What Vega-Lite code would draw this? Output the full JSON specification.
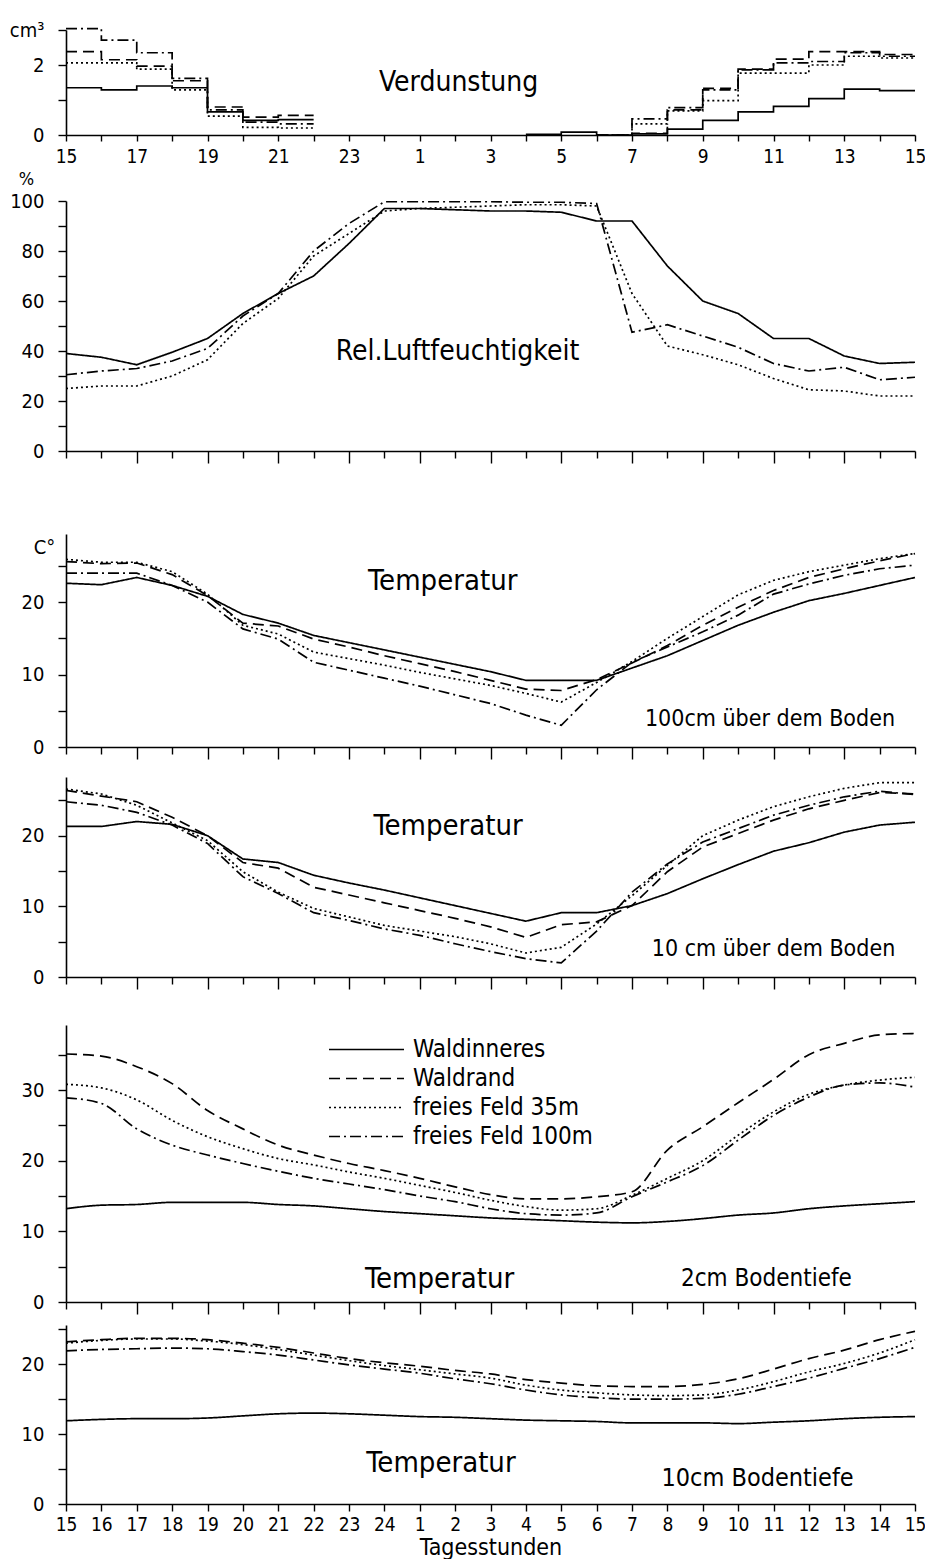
{
"$schema":"https://vega.github.io/schema/vega-lite/v6.json",
"padding":{"left":9,"top":20,"right":5,"bottom":0},
"config":{"view":{"stroke":null},"font":"DejaVu Sans Condensed, DejaVu Sans",
"axis":{"domainColor":"black","domainWidth":1.6,"tickColor":"black","tickWidth":1.4,"labelColor":"black","labelFontSize":20,"titleColor":"black","grid":false,"labelFlush":false,"labelOverlap":false,"titleFontWeight":"normal"},
"line":{"color":"black","strokeWidth":1.7},
"text":{"color":"black"}},
"datasets":{
"evap":[
{"t":0,"s":"Waldinneres","v":1.35,"g":"a"},{"t":1,"s":"Waldinneres","v":1.29,"g":"a"},{"t":2,"s":"Waldinneres","v":1.40,"g":"a"},{"t":3,"s":"Waldinneres","v":1.35,"g":"a"},{"t":4,"s":"Waldinneres","v":0.66,"g":"a"},{"t":5,"s":"Waldinneres","v":0.42,"g":"a"},{"t":6,"s":"Waldinneres","v":0.44,"g":"a"},{"t":7,"s":"Waldinneres","v":0.44,"g":"a"},
{"t":0,"s":"Waldrand","v":2.38,"g":"a"},{"t":1,"s":"Waldrand","v":2.15,"g":"a"},{"t":2,"s":"Waldrand","v":1.97,"g":"a"},{"t":3,"s":"Waldrand","v":1.55,"g":"a"},{"t":4,"s":"Waldrand","v":0.80,"g":"a"},{"t":5,"s":"Waldrand","v":0.51,"g":"a"},{"t":6,"s":"Waldrand","v":0.56,"g":"a"},{"t":7,"s":"Waldrand","v":0.56,"g":"a"},
{"t":0,"s":"freies Feld 35m","v":2.06,"g":"a"},{"t":1,"s":"freies Feld 35m","v":2.06,"g":"a"},{"t":2,"s":"freies Feld 35m","v":1.88,"g":"a"},{"t":3,"s":"freies Feld 35m","v":1.29,"g":"a"},{"t":4,"s":"freies Feld 35m","v":0.54,"g":"a"},{"t":5,"s":"freies Feld 35m","v":0.22,"g":"a"},{"t":6,"s":"freies Feld 35m","v":0.20,"g":"a"},{"t":7,"s":"freies Feld 35m","v":0.20,"g":"a"},
{"t":0,"s":"freies Feld 100m","v":3.04,"g":"a"},{"t":1,"s":"freies Feld 100m","v":2.71,"g":"a"},{"t":2,"s":"freies Feld 100m","v":2.35,"g":"a"},{"t":3,"s":"freies Feld 100m","v":1.62,"g":"a"},{"t":4,"s":"freies Feld 100m","v":0.72,"g":"a"},{"t":5,"s":"freies Feld 100m","v":0.37,"g":"a"},{"t":6,"s":"freies Feld 100m","v":0.32,"g":"a"},{"t":7,"s":"freies Feld 100m","v":0.32,"g":"a"},
{"t":13,"s":"Waldinneres","v":0.02,"g":"b"},{"t":14,"s":"Waldinneres","v":0.08,"g":"b"},{"t":15,"s":"Waldinneres","v":0,"g":"b"},{"t":16,"s":"Waldinneres","v":0.03,"g":"b"},{"t":17,"s":"Waldinneres","v":0.17,"g":"b"},{"t":18,"s":"Waldinneres","v":0.42,"g":"b"},{"t":19,"s":"Waldinneres","v":0.66,"g":"b"},{"t":20,"s":"Waldinneres","v":0.82,"g":"b"},{"t":21,"s":"Waldinneres","v":1.04,"g":"b"},{"t":22,"s":"Waldinneres","v":1.31,"g":"b"},{"t":23,"s":"Waldinneres","v":1.27,"g":"b"},{"t":24,"s":"Waldinneres","v":1.27,"g":"b"},
{"t":15,"s":"Waldrand","v":0,"g":"b"},{"t":16,"s":"Waldrand","v":0.05,"g":"b"},{"t":17,"s":"Waldrand","v":0.72,"g":"b"},{"t":18,"s":"Waldrand","v":1.33,"g":"b"},{"t":19,"s":"Waldrand","v":1.88,"g":"b"},{"t":20,"s":"Waldrand","v":2.17,"g":"b"},{"t":21,"s":"Waldrand","v":2.38,"g":"b"},{"t":22,"s":"Waldrand","v":2.38,"g":"b"},{"t":23,"s":"Waldrand","v":2.30,"g":"b"},{"t":24,"s":"Waldrand","v":2.30,"g":"b"},
{"t":15,"s":"freies Feld 35m","v":0,"g":"b"},{"t":16,"s":"freies Feld 35m","v":0.32,"g":"b"},{"t":17,"s":"freies Feld 35m","v":0.69,"g":"b"},{"t":18,"s":"freies Feld 35m","v":0.98,"g":"b"},{"t":19,"s":"freies Feld 35m","v":1.77,"g":"b"},{"t":20,"s":"freies Feld 35m","v":1.77,"g":"b"},{"t":21,"s":"freies Feld 35m","v":2.00,"g":"b"},{"t":22,"s":"freies Feld 35m","v":2.25,"g":"b"},{"t":23,"s":"freies Feld 35m","v":2.20,"g":"b"},{"t":24,"s":"freies Feld 35m","v":2.20,"g":"b"},
{"t":15,"s":"freies Feld 100m","v":0,"g":"b"},{"t":16,"s":"freies Feld 100m","v":0.46,"g":"b"},{"t":17,"s":"freies Feld 100m","v":0.78,"g":"b"},{"t":18,"s":"freies Feld 100m","v":1.29,"g":"b"},{"t":19,"s":"freies Feld 100m","v":1.86,"g":"b"},{"t":20,"s":"freies Feld 100m","v":2.06,"g":"b"},{"t":21,"s":"freies Feld 100m","v":2.10,"g":"b"},{"t":22,"s":"freies Feld 100m","v":2.35,"g":"b"},{"t":23,"s":"freies Feld 100m","v":2.25,"g":"b"},{"t":24,"s":"freies Feld 100m","v":2.25,"g":"b"}
],
"rh":[
{"t":0,"Waldinneres":39,"freies Feld 35m":25,"freies Feld 100m":30.5},
{"t":1,"Waldinneres":37.5,"freies Feld 35m":26,"freies Feld 100m":32},
{"t":2,"Waldinneres":34.5,"freies Feld 35m":26,"freies Feld 100m":33},
{"t":3,"Waldinneres":39.5,"freies Feld 35m":30,"freies Feld 100m":36},
{"t":4,"Waldinneres":45,"freies Feld 35m":36.5,"freies Feld 100m":41},
{"t":5,"Waldinneres":55,"freies Feld 35m":51,"freies Feld 100m":54},
{"t":6,"Waldinneres":63,"freies Feld 35m":61,"freies Feld 100m":63},
{"t":7,"Waldinneres":70,"freies Feld 35m":78,"freies Feld 100m":80},
{"t":8,"Waldinneres":83,"freies Feld 35m":87,"freies Feld 100m":91},
{"t":9,"Waldinneres":97,"freies Feld 35m":96,"freies Feld 100m":99.7},
{"t":10,"Waldinneres":97,"freies Feld 35m":97,"freies Feld 100m":99.7},
{"t":11,"Waldinneres":96.5,"freies Feld 35m":97.5,"freies Feld 100m":99.7},
{"t":12,"Waldinneres":96,"freies Feld 35m":98,"freies Feld 100m":99.7},
{"t":13,"Waldinneres":96,"freies Feld 35m":98.5,"freies Feld 100m":99.5},
{"t":14,"Waldinneres":95.5,"freies Feld 35m":98.5,"freies Feld 100m":99.5},
{"t":15,"Waldinneres":92,"freies Feld 35m":98,"freies Feld 100m":99},
{"t":16,"Waldinneres":92,"freies Feld 35m":63,"freies Feld 100m":47.5},
{"t":17,"Waldinneres":74,"freies Feld 35m":42,"freies Feld 100m":50.5},
{"t":18,"Waldinneres":60,"freies Feld 35m":38.5,"freies Feld 100m":46},
{"t":19,"Waldinneres":55,"freies Feld 35m":34.5,"freies Feld 100m":41.5},
{"t":20,"Waldinneres":45,"freies Feld 35m":29,"freies Feld 100m":35},
{"t":21,"Waldinneres":45,"freies Feld 35m":24.5,"freies Feld 100m":32},
{"t":22,"Waldinneres":38,"freies Feld 35m":24,"freies Feld 100m":33.5},
{"t":23,"Waldinneres":35,"freies Feld 35m":22,"freies Feld 100m":28.5},
{"t":24,"Waldinneres":35.5,"freies Feld 35m":22,"freies Feld 100m":29.5}
],
"t100":[
{"t":0,"Waldinneres":22.6,"Waldrand":25.6,"freies Feld 35m":25.9,"freies Feld 100m":24.0},
{"t":1,"Waldinneres":22.4,"Waldrand":25.3,"freies Feld 35m":25.5,"freies Feld 100m":24.0},
{"t":2,"Waldinneres":23.4,"Waldrand":25.4,"freies Feld 35m":25.5,"freies Feld 100m":24.0},
{"t":3,"Waldinneres":22.3,"Waldrand":23.8,"freies Feld 35m":24.2,"freies Feld 100m":22.3},
{"t":4,"Waldinneres":20.8,"Waldrand":20.9,"freies Feld 35m":21.1,"freies Feld 100m":20.0},
{"t":5,"Waldinneres":18.3,"Waldrand":17.1,"freies Feld 35m":16.8,"freies Feld 100m":16.3},
{"t":6,"Waldinneres":17.1,"Waldrand":16.7,"freies Feld 35m":15.6,"freies Feld 100m":14.9},
{"t":7,"Waldinneres":15.4,"Waldrand":14.9,"freies Feld 35m":13.1,"freies Feld 100m":11.7},
{"t":8,"Waldinneres":14.4,"Waldrand":13.8,"freies Feld 35m":12.2,"freies Feld 100m":10.6},
{"t":9,"Waldinneres":13.4,"Waldrand":12.6,"freies Feld 35m":11.3,"freies Feld 100m":9.5},
{"t":10,"Waldinneres":12.4,"Waldrand":11.5,"freies Feld 35m":10.3,"freies Feld 100m":8.4},
{"t":11,"Waldinneres":11.4,"Waldrand":10.4,"freies Feld 35m":9.4,"freies Feld 100m":7.2},
{"t":12,"Waldinneres":10.4,"Waldrand":9.2,"freies Feld 35m":8.5,"freies Feld 100m":6.0},
{"t":13,"Waldinneres":9.2,"Waldrand":8.0,"freies Feld 35m":7.4,"freies Feld 100m":4.4},
{"t":14,"Waldinneres":9.2,"Waldrand":7.8,"freies Feld 35m":6.2,"freies Feld 100m":3.0},
{"t":15,"Waldinneres":9.2,"Waldrand":9.3,"freies Feld 35m":8.9,"freies Feld 100m":7.9},
{"t":16,"Waldinneres":10.9,"Waldrand":11.6,"freies Feld 35m":11.8,"freies Feld 100m":11.7},
{"t":17,"Waldinneres":12.6,"Waldrand":14.0,"freies Feld 35m":15.0,"freies Feld 100m":13.8},
{"t":18,"Waldinneres":14.7,"Waldrand":16.8,"freies Feld 35m":18.0,"freies Feld 100m":15.9},
{"t":19,"Waldinneres":16.8,"Waldrand":19.3,"freies Feld 35m":21.0,"freies Feld 100m":18.2},
{"t":20,"Waldinneres":18.6,"Waldrand":21.6,"freies Feld 35m":23.0,"freies Feld 100m":21.1},
{"t":21,"Waldinneres":20.2,"Waldrand":23.4,"freies Feld 35m":24.2,"freies Feld 100m":22.5},
{"t":22,"Waldinneres":21.2,"Waldrand":24.6,"freies Feld 35m":25.1,"freies Feld 100m":23.7},
{"t":23,"Waldinneres":22.3,"Waldrand":25.7,"freies Feld 35m":26.0,"freies Feld 100m":24.6},
{"t":24,"Waldinneres":23.4,"Waldrand":26.7,"freies Feld 35m":26.7,"freies Feld 100m":25.1}
],
"t10":[
{"t":0,"Waldinneres":21.3,"Waldrand":26.4,"freies Feld 35m":26.6,"freies Feld 100m":24.8},
{"t":1,"Waldinneres":21.3,"Waldrand":25.6,"freies Feld 35m":25.9,"freies Feld 100m":24.3},
{"t":2,"Waldinneres":22.0,"Waldrand":24.8,"freies Feld 35m":24.3,"freies Feld 100m":23.3},
{"t":3,"Waldinneres":21.6,"Waldrand":22.6,"freies Feld 35m":21.8,"freies Feld 100m":21.5},
{"t":4,"Waldinneres":20.0,"Waldrand":20.0,"freies Feld 35m":19.3,"freies Feld 100m":18.9},
{"t":5,"Waldinneres":16.7,"Waldrand":16.2,"freies Feld 35m":14.9,"freies Feld 100m":14.2},
{"t":6,"Waldinneres":16.2,"Waldrand":15.4,"freies Feld 35m":12.0,"freies Feld 100m":11.8},
{"t":7,"Waldinneres":14.4,"Waldrand":12.7,"freies Feld 35m":9.7,"freies Feld 100m":9.1},
{"t":8,"Waldinneres":13.3,"Waldrand":11.6,"freies Feld 35m":8.5,"freies Feld 100m":8.0},
{"t":9,"Waldinneres":12.3,"Waldrand":10.5,"freies Feld 35m":7.3,"freies Feld 100m":6.8},
{"t":10,"Waldinneres":11.2,"Waldrand":9.4,"freies Feld 35m":6.5,"freies Feld 100m":5.9},
{"t":11,"Waldinneres":10.1,"Waldrand":8.3,"freies Feld 35m":5.7,"freies Feld 100m":4.7},
{"t":12,"Waldinneres":9.0,"Waldrand":7.1,"freies Feld 35m":4.7,"freies Feld 100m":3.6},
{"t":13,"Waldinneres":7.9,"Waldrand":5.6,"freies Feld 35m":3.4,"freies Feld 100m":2.6},
{"t":14,"Waldinneres":9.1,"Waldrand":7.4,"freies Feld 35m":4.2,"freies Feld 100m":2.0},
{"t":15,"Waldinneres":9.1,"Waldrand":7.8,"freies Feld 35m":7.5,"freies Feld 100m":6.5},
{"t":16,"Waldinneres":10.1,"Waldrand":10.1,"freies Feld 35m":11.5,"freies Feld 100m":12.0},
{"t":17,"Waldinneres":11.8,"Waldrand":14.9,"freies Feld 35m":15.8,"freies Feld 100m":16.0},
{"t":18,"Waldinneres":13.9,"Waldrand":18.4,"freies Feld 35m":20.0,"freies Feld 100m":19.1},
{"t":19,"Waldinneres":15.9,"Waldrand":20.3,"freies Feld 35m":22.2,"freies Feld 100m":21.0},
{"t":20,"Waldinneres":17.8,"Waldrand":22.2,"freies Feld 35m":24.1,"freies Feld 100m":22.9},
{"t":21,"Waldinneres":19.0,"Waldrand":23.8,"freies Feld 35m":25.5,"freies Feld 100m":24.3},
{"t":22,"Waldinneres":20.5,"Waldrand":25.0,"freies Feld 35m":26.7,"freies Feld 100m":25.5},
{"t":23,"Waldinneres":21.5,"Waldrand":26.1,"freies Feld 35m":27.5,"freies Feld 100m":26.3},
{"t":24,"Waldinneres":21.9,"Waldrand":25.9,"freies Feld 35m":27.5,"freies Feld 100m":25.8}
],
"s2":[
{"t":0,"Waldinneres":13.2,"Waldrand":35.1,"freies Feld 35m":30.8,"freies Feld 100m":28.9},
{"t":1,"Waldinneres":13.7,"Waldrand":34.8,"freies Feld 35m":30.3,"freies Feld 100m":28.1},
{"t":2,"Waldinneres":13.8,"Waldrand":33.3,"freies Feld 35m":28.6,"freies Feld 100m":24.5},
{"t":3,"Waldinneres":14.1,"Waldrand":30.9,"freies Feld 35m":25.7,"freies Feld 100m":22.2},
{"t":4,"Waldinneres":14.1,"Waldrand":27.1,"freies Feld 35m":23.4,"freies Feld 100m":20.8},
{"t":5,"Waldinneres":14.1,"Waldrand":24.5,"freies Feld 35m":21.7,"freies Feld 100m":19.6},
{"t":6,"Waldinneres":13.8,"Waldrand":22.2,"freies Feld 35m":20.3,"freies Feld 100m":18.5},
{"t":7,"Waldinneres":13.6,"Waldrand":20.8,"freies Feld 35m":19.4,"freies Feld 100m":17.5},
{"t":8,"Waldinneres":13.2,"Waldrand":19.6,"freies Feld 35m":18.4,"freies Feld 100m":16.7},
{"t":9,"Waldinneres":12.8,"Waldrand":18.6,"freies Feld 35m":17.5,"freies Feld 100m":15.9},
{"t":10,"Waldinneres":12.5,"Waldrand":17.5,"freies Feld 35m":16.5,"freies Feld 100m":15.0},
{"t":11,"Waldinneres":12.2,"Waldrand":16.3,"freies Feld 35m":15.5,"freies Feld 100m":14.2},
{"t":12,"Waldinneres":11.9,"Waldrand":15.2,"freies Feld 35m":14.4,"freies Feld 100m":13.2},
{"t":13,"Waldinneres":11.7,"Waldrand":14.6,"freies Feld 35m":13.5,"freies Feld 100m":12.5},
{"t":14,"Waldinneres":11.5,"Waldrand":14.6,"freies Feld 35m":13.0,"freies Feld 100m":12.3},
{"t":15,"Waldinneres":11.3,"Waldrand":14.9,"freies Feld 35m":13.2,"freies Feld 100m":12.6},
{"t":16,"Waldinneres":11.2,"Waldrand":15.6,"freies Feld 35m":15.1,"freies Feld 100m":14.9},
{"t":17,"Waldinneres":11.4,"Waldrand":21.5,"freies Feld 35m":17.5,"freies Feld 100m":17.0},
{"t":18,"Waldinneres":11.8,"Waldrand":24.8,"freies Feld 35m":20.0,"freies Feld 100m":19.3},
{"t":19,"Waldinneres":12.3,"Waldrand":28.2,"freies Feld 35m":23.6,"freies Feld 100m":22.9},
{"t":20,"Waldinneres":12.6,"Waldrand":31.5,"freies Feld 35m":26.9,"freies Feld 100m":26.4},
{"t":21,"Waldinneres":13.2,"Waldrand":35.0,"freies Feld 35m":29.4,"freies Feld 100m":29.0},
{"t":22,"Waldinneres":13.6,"Waldrand":36.6,"freies Feld 35m":30.7,"freies Feld 100m":30.7},
{"t":23,"Waldinneres":13.9,"Waldrand":37.8,"freies Feld 35m":31.4,"freies Feld 100m":31.0},
{"t":24,"Waldinneres":14.2,"Waldrand":38.0,"freies Feld 35m":31.8,"freies Feld 100m":30.4}
],
"s10":[
{"t":0,"Waldinneres":11.9,"Waldrand":23.2,"freies Feld 35m":23.0,"freies Feld 100m":21.9},
{"t":1,"Waldinneres":12.1,"Waldrand":23.5,"freies Feld 35m":23.4,"freies Feld 100m":22.1},
{"t":2,"Waldinneres":12.2,"Waldrand":23.7,"freies Feld 35m":23.6,"freies Feld 100m":22.2},
{"t":3,"Waldinneres":12.2,"Waldrand":23.7,"freies Feld 35m":23.6,"freies Feld 100m":22.3},
{"t":4,"Waldinneres":12.3,"Waldrand":23.5,"freies Feld 35m":23.3,"freies Feld 100m":22.2},
{"t":5,"Waldinneres":12.6,"Waldrand":23.0,"freies Feld 35m":22.8,"freies Feld 100m":21.8},
{"t":6,"Waldinneres":12.9,"Waldrand":22.4,"freies Feld 35m":22.1,"freies Feld 100m":21.3},
{"t":7,"Waldinneres":13.0,"Waldrand":21.6,"freies Feld 35m":21.3,"freies Feld 100m":20.6},
{"t":8,"Waldinneres":12.9,"Waldrand":20.8,"freies Feld 35m":20.5,"freies Feld 100m":19.9},
{"t":9,"Waldinneres":12.7,"Waldrand":20.2,"freies Feld 35m":19.8,"freies Feld 100m":19.3},
{"t":10,"Waldinneres":12.5,"Waldrand":19.7,"freies Feld 35m":19.2,"freies Feld 100m":18.7},
{"t":11,"Waldinneres":12.4,"Waldrand":19.1,"freies Feld 35m":18.6,"freies Feld 100m":17.9},
{"t":12,"Waldinneres":12.2,"Waldrand":18.6,"freies Feld 35m":18.0,"freies Feld 100m":17.2},
{"t":13,"Waldinneres":12.0,"Waldrand":17.8,"freies Feld 35m":17.0,"freies Feld 100m":16.3},
{"t":14,"Waldinneres":11.9,"Waldrand":17.3,"freies Feld 35m":16.3,"freies Feld 100m":15.6},
{"t":15,"Waldinneres":11.8,"Waldrand":16.9,"freies Feld 35m":15.9,"freies Feld 100m":15.2},
{"t":16,"Waldinneres":11.6,"Waldrand":16.8,"freies Feld 35m":15.6,"freies Feld 100m":15.0},
{"t":17,"Waldinneres":11.6,"Waldrand":16.8,"freies Feld 35m":15.5,"freies Feld 100m":15.0},
{"t":18,"Waldinneres":11.6,"Waldrand":17.1,"freies Feld 35m":15.6,"freies Feld 100m":15.1},
{"t":19,"Waldinneres":11.5,"Waldrand":17.9,"freies Feld 35m":16.3,"freies Feld 100m":15.7},
{"t":20,"Waldinneres":11.7,"Waldrand":19.3,"freies Feld 35m":17.5,"freies Feld 100m":16.8},
{"t":21,"Waldinneres":11.9,"Waldrand":20.8,"freies Feld 35m":18.9,"freies Feld 100m":18.0},
{"t":22,"Waldinneres":12.2,"Waldrand":22.0,"freies Feld 35m":20.1,"freies Feld 100m":19.4},
{"t":23,"Waldinneres":12.4,"Waldrand":23.5,"freies Feld 35m":21.6,"freies Feld 100m":20.8},
{"t":24,"Waldinneres":12.5,"Waldrand":24.7,"freies Feld 35m":23.5,"freies Feld 100m":22.4}
]
},
"vconcat":[
{"width":849,"height":105,
 "layer":[
  {"data":{"name":"evap"},"mark":{"type":"line","interpolate":"step-after"},
   "encoding":{
    "x":{"field":"t","type":"quantitative","scale":{"domain":[0,24],"nice":false,"zero":false},"axis":{"values":[0,1,2,3,4,5,6,7,8,9,10,11,12,13,14,15,16,17,18,19,20,21,22,23,24],"tickCount":100,"title":null,"tickSize":6,"labelPadding":6,"labelFontSize":19,"labelOverlap":false,"labelExpr":"datum.value % 2 == 0 ? '' + ((datum.value + 14) % 24 + 1) : ''"}},
    "y":{"field":"v","type":"quantitative","scale":{"domain":[0,3],"nice":false},"axis":{"values":[0,1,2,3],"tickCount":100,"title":null,"tickSize":8,"labelPadding":14,"labelOverlap":false,"labelExpr":"datum.value == 3 ? 'cm³' : (datum.value == 2 ? '2' : (datum.value == 0 ? '0' : ''))"}},
    "strokeDash":{"field":"s","type":"nominal","scale":{"domain":["Waldinneres","Waldrand","freies Feld 35m","freies Feld 100m"],"range":[[1,0],[11,6],[2,3],[11,4,2,4]]},"legend":null},
    "detail":{"field":"g","type":"nominal"}}},
  {"data":{"values":[{}]},"mark":{"type":"text","fontSize":28,"align":"center","baseline":"middle"},
   "encoding":{"x":{"datum":11.1,"type":"quantitative"},"y":{"datum":1.49,"type":"quantitative"},"text":{"value":"Verdunstung"}}}
 ]},
{"vconcat":[
 {"width":849,"height":250,
  "layer":[
   {"data":{"name":"rh"},"transform":[{"fold":["Waldinneres","freies Feld 35m","freies Feld 100m"],"as":["s","v"]}],"mark":{"type":"line"},
    "encoding":{
     "x":{"field":"t","type":"quantitative","scale":{"domain":[0,24],"nice":false,"zero":false},"axis":{"values":[0,1,2,3,4,5,6,7,8,9,10,11,12,13,14,15,16,17,18,19,20,21,22,23,24],"tickCount":100,"title":null,"labels":false,"tickSize":{"condition":{"test":"datum.value % 2 == 0 && datum.value > 0 && datum.value < 24","value":12},"value":7}}},
     "y":{"field":"v","type":"quantitative","scale":{"domain":[0,100],"nice":false},"axis":{"values":[0,10,20,30,40,50,60,70,80,90,100],"tickCount":100,"labelOverlap":false,"labelExpr":"datum.value % 20 == 0 ? '' + datum.value : ''","title":"%","titleAngle":0,"titleX":-40,"titleY":-22,"titleAlign":"center","titleBaseline":"middle","titleFontSize":18,"tickSize":8,"labelPadding":14}},
     "strokeDash":{"field":"s","type":"nominal","scale":{"domain":["Waldinneres","Waldrand","freies Feld 35m","freies Feld 100m"],"range":[[1,0],[11,6],[2,3],[11,4,2,4]]},"legend":null}}},
   {"data":{"values":[{}]},"mark":{"type":"text","fontSize":28,"align":"center","baseline":"middle"},
    "encoding":{"x":{"datum":11.07,"type":"quantitative"},"y":{"datum":39.6,"type":"quantitative"},"text":{"value":"Rel.Luftfeuchtigkeit"}}}
  ]},
 {"vconcat":[
  {"width":849,"height":213,
   "layer":[
    {"data":{"name":"t100"},"transform":[{"fold":["Waldinneres","Waldrand","freies Feld 35m","freies Feld 100m"],"as":["s","v"]}],"mark":{"type":"line"},
     "encoding":{
      "x":{"field":"t","type":"quantitative","scale":{"domain":[0,24],"nice":false,"zero":false},"axis":{"values":[0,1,2,3,4,5,6,7,8,9,10,11,12,13,14,15,16,17,18,19,20,21,22,23,24],"tickCount":100,"title":null,"labels":false,"tickSize":{"condition":{"test":"datum.value % 2 == 0 && datum.value > 0 && datum.value < 24","value":12},"value":7}}},
      "y":{"field":"v","type":"quantitative","scale":{"domain":[0,29.4],"nice":false},"axis":{"values":[0,5,10,15,20,25],"tickCount":100,"labelOverlap":false,"labelExpr":"datum.value % 10 == 0 ? '' + datum.value : ''","title":"C°","titleAngle":0,"titleX":-22,"titleY":13,"titleAlign":"center","titleBaseline":"middle","titleFontSize":20,"tickSize":8,"labelPadding":14}},
      "strokeDash":{"field":"s","type":"nominal","scale":{"domain":["Waldinneres","Waldrand","freies Feld 35m","freies Feld 100m"],"range":[[1,0],[11,6],[2,3],[11,4,2,4]]},"legend":null}}},
    {"data":{"values":[{}]},"mark":{"type":"text","fontSize":29,"align":"center","baseline":"middle"},
     "encoding":{"x":{"datum":10.65,"type":"quantitative"},"y":{"datum":22.9,"type":"quantitative"},"text":{"value":"Temperatur"}}},
    {"data":{"values":[{}]},"mark":{"type":"text","fontSize":23,"align":"center","baseline":"middle"},
     "encoding":{"x":{"datum":19.9,"type":"quantitative"},"y":{"datum":3.9,"type":"quantitative"},"text":{"value":"100cm über dem Boden"}}}
   ]},
  {"vconcat":[
   {"width":849,"height":200,
    "layer":[
     {"data":{"name":"t10"},"transform":[{"fold":["Waldinneres","Waldrand","freies Feld 35m","freies Feld 100m"],"as":["s","v"]}],"mark":{"type":"line"},
      "encoding":{
       "x":{"field":"t","type":"quantitative","scale":{"domain":[0,24],"nice":false,"zero":false},"axis":{"values":[0,1,2,3,4,5,6,7,8,9,10,11,12,13,14,15,16,17,18,19,20,21,22,23,24],"tickCount":100,"title":null,"labels":false,"tickSize":{"condition":{"test":"datum.value % 2 == 0 && datum.value > 0 && datum.value < 24","value":12},"value":7}}},
       "y":{"field":"v","type":"quantitative","scale":{"domain":[0,28.3],"nice":false},"axis":{"values":[0,5,10,15,20,25],"tickCount":100,"labelOverlap":false,"labelExpr":"datum.value % 10 == 0 ? '' + datum.value : ''","title":null,"tickSize":8,"labelPadding":14}},
       "strokeDash":{"field":"s","type":"nominal","scale":{"domain":["Waldinneres","Waldrand","freies Feld 35m","freies Feld 100m"],"range":[[1,0],[11,6],[2,3],[11,4,2,4]]},"legend":null}}},
     {"data":{"values":[{}]},"mark":{"type":"text","fontSize":29,"align":"center","baseline":"middle"},
      "encoding":{"x":{"datum":10.8,"type":"quantitative"},"y":{"datum":21.3,"type":"quantitative"},"text":{"value":"Temperatur"}}},
     {"data":{"values":[{}]},"mark":{"type":"text","fontSize":23,"align":"center","baseline":"middle"},
      "encoding":{"x":{"datum":20.0,"type":"quantitative"},"y":{"datum":4.0,"type":"quantitative"},"text":{"value":"10 cm über dem Boden"}}}
    ]},
   {"vconcat":[
    {"width":849,"height":277,
     "layer":[
      {"data":{"name":"s2"},"transform":[{"fold":["Waldinneres","Waldrand","freies Feld 35m","freies Feld 100m"],"as":["s","v"]}],"mark":{"type":"line","interpolate":"monotone"},
       "encoding":{
        "x":{"field":"t","type":"quantitative","scale":{"domain":[0,24],"nice":false,"zero":false},"axis":{"values":[0,1,2,3,4,5,6,7,8,9,10,11,12,13,14,15,16,17,18,19,20,21,22,23,24],"tickCount":100,"title":null,"labels":false,"tickSize":{"condition":{"test":"datum.value % 2 == 0 && datum.value > 0 && datum.value < 24","value":12},"value":7}}},
        "y":{"field":"v","type":"quantitative","scale":{"domain":[0,39.2],"nice":false},"axis":{"values":[0,5,10,15,20,25,30,35],"tickCount":100,"labelOverlap":false,"labelExpr":"datum.value % 10 == 0 ? '' + datum.value : ''","title":null,"tickSize":8,"labelPadding":14}},
        "strokeDash":{"field":"s","type":"nominal","scale":{"domain":["Waldinneres","Waldrand","freies Feld 35m","freies Feld 100m"],"range":[[1,0],[11,6],[2,3],[11,4,2,4]]},
         "legend":{"orient":"none","legendX":262,"legendY":10,"title":null,"symbolType":"stroke","symbolSize":5625,"symbolStrokeWidth":2,"symbolStrokeColor":"black","labelFontSize":24,"labelColor":"black","labelOffset":8,"labelLimit":400,"clipHeight":29,"rowPadding":0,"padding":0}}}},
      {"data":{"values":[{}]},"mark":{"type":"text","fontSize":29,"align":"center","baseline":"middle"},
       "encoding":{"x":{"datum":10.56,"type":"quantitative"},"y":{"datum":3.3,"type":"quantitative"},"text":{"value":"Temperatur"}}},
      {"data":{"values":[{}]},"mark":{"type":"text","fontSize":24,"align":"center","baseline":"middle"},
       "encoding":{"x":{"datum":19.8,"type":"quantitative"},"y":{"datum":3.3,"type":"quantitative"},"text":{"value":"2cm   Bodentiefe"}}}
     ]},
    {"width":849,"height":179,
     "layer":[
      {"data":{"name":"s10"},"transform":[{"fold":["Waldinneres","Waldrand","freies Feld 35m","freies Feld 100m"],"as":["s","v"]}],"mark":{"type":"line","interpolate":"monotone"},
       "encoding":{
        "x":{"field":"t","type":"quantitative","scale":{"domain":[0,24],"nice":false,"zero":false},"axis":{"values":[0,1,2,3,4,5,6,7,8,9,10,11,12,13,14,15,16,17,18,19,20,21,22,23,24],"tickCount":100,"title":"Tagesstunden","titleFontSize":23,"titlePadding":2,"tickSize":7,"labelPadding":4,"labelFontSize":19,"labelOverlap":false,"labelExpr":"'' + ((datum.value + 14) % 24 + 1)"}},
        "y":{"field":"v","type":"quantitative","scale":{"domain":[0,25.6],"nice":false},"axis":{"values":[0,5,10,15,20,25],"tickCount":100,"labelOverlap":false,"labelExpr":"datum.value % 10 == 0 ? '' + datum.value : ''","title":null,"tickSize":8,"labelPadding":14}},
        "strokeDash":{"field":"s","type":"nominal","scale":{"domain":["Waldinneres","Waldrand","freies Feld 35m","freies Feld 100m"],"range":[[1,0],[11,6],[2,3],[11,4,2,4]]},"legend":null}}},
      {"data":{"values":[{}]},"mark":{"type":"text","fontSize":29,"align":"center","baseline":"middle"},
       "encoding":{"x":{"datum":10.6,"type":"quantitative"},"y":{"datum":5.9,"type":"quantitative"},"text":{"value":"Temperatur"}}},
      {"data":{"values":[{}]},"mark":{"type":"text","fontSize":25,"align":"center","baseline":"middle"},
       "encoding":{"x":{"datum":19.55,"type":"quantitative"},"y":{"datum":3.75,"type":"quantitative"},"text":{"value":"10cm   Bodentiefe"}}}
     ]}
   ],"spacing":4,"resolve":{"scale":{"strokeDash":"independent"}}}
  ],"spacing":35,"resolve":{"scale":{"strokeDash":"independent"}}}
 ],"spacing":17,"resolve":{"scale":{"strokeDash":"independent"}}}
],"spacing":70,"resolve":{"scale":{"strokeDash":"independent"}}}
],
"spacing":4,
"resolve":{"scale":{"strokeDash":"independent"}}
}
